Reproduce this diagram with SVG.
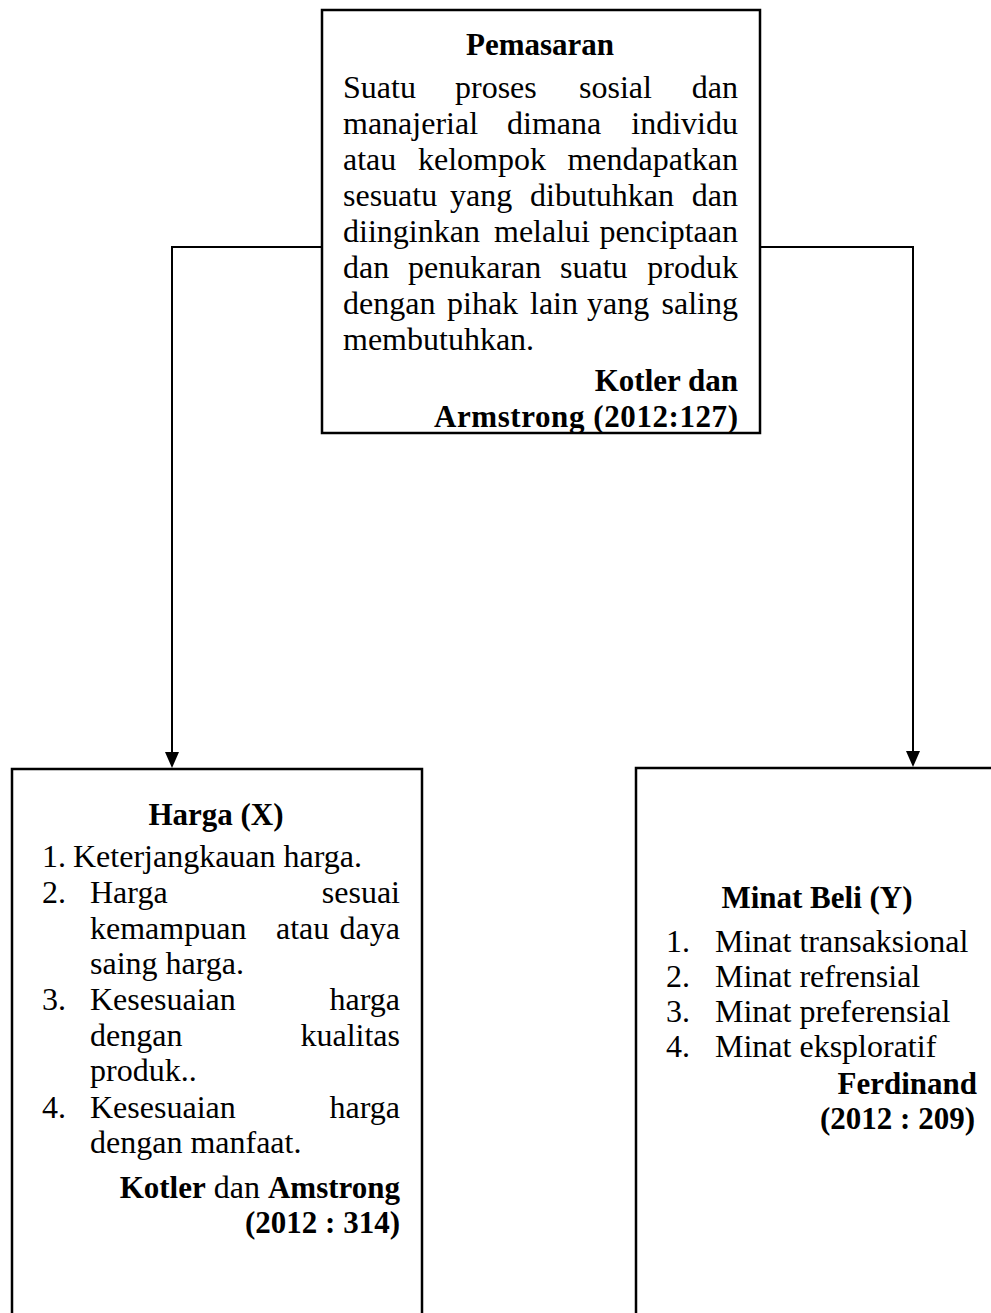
<svg xmlns="http://www.w3.org/2000/svg" width="991" height="1313" viewBox="0 0 991 1313">
<style>
text{font-family:"Liberation Serif","Times New Roman",serif;font-size:32px;fill:#000}
.b{font-weight:bold;font-size:31px}
.box{fill:#fff;stroke:#000;stroke-width:2.5}
.con{fill:none;stroke:#000;stroke-width:2}
</style>
<rect width="991" height="1313" fill="#fff"/>
<g id="connectors">
<path class="con" d="M322,247 H172 V752"/>
<path d="M165,752 L179,752 L172,768 Z" fill="#000"/>
<path class="con" d="M760,247 H913 V751"/>
<path d="M906,751 L920,751 L913,767 Z" fill="#000"/>
</g>
<g id="pemasaran">
<rect class="box" x="322" y="10" width="438" height="423"/>
<text class="b" x="540" y="55" text-anchor="middle">Pemasaran</text>
<text y="98"><tspan x="343">Suatu</tspan><tspan x="455">proses</tspan><tspan x="579">sosial</tspan></text>
<text y="98" x="738" text-anchor="end">dan</text>
<text y="134"><tspan x="343">manajerial</tspan><tspan x="507">dimana</tspan></text>
<text y="134" x="738" text-anchor="end">individu</text>
<text y="170"><tspan x="343">atau</tspan><tspan x="418">kelompok</tspan></text>
<text y="170" x="738" text-anchor="end">mendapatkan</text>
<text y="206"><tspan x="343">sesuatu</tspan><tspan x="450">yang</tspan><tspan x="530">dibutuhkan</tspan></text>
<text y="206" x="738" text-anchor="end">dan</text>
<text y="242"><tspan x="343">diinginkan</tspan><tspan x="494">melalui</tspan></text>
<text y="242" x="738" text-anchor="end">penciptaan</text>
<text y="278"><tspan x="343">dan</tspan><tspan x="408">penukaran</tspan><tspan x="560">suatu</tspan></text>
<text y="278" x="738" text-anchor="end">produk</text>
<text y="314"><tspan x="343">dengan</tspan><tspan x="447">pihak</tspan><tspan x="530">lain</tspan><tspan x="587">yang</tspan></text>
<text y="314" x="738" text-anchor="end">saling</text>
<text x="343" y="350">membutuhkan.</text>
<text class="b" x="738" y="391" text-anchor="end">Kotler dan</text>
<text class="b" x="738" y="427" text-anchor="end" textLength="304">Armstrong (2012:127)</text>
</g>
<g id="harga">
<rect class="box" x="12" y="769" width="410" height="560"/>
<text class="b" x="216" y="825" text-anchor="middle">Harga (X)</text>
<text y="867"><tspan x="42">1.</tspan><tspan x="73">Keterjangkauan harga.</tspan></text>
<text y="903"><tspan x="42">2.</tspan><tspan x="90">Harga</tspan></text>
<text y="903" x="400" text-anchor="end">sesuai</text>
<text y="939"><tspan x="90">kemampuan</tspan><tspan x="276">atau</tspan></text>
<text y="939" x="400" text-anchor="end">daya</text>
<text x="90" y="974">saing harga.</text>
<text y="1010"><tspan x="42">3.</tspan><tspan x="90">Kesesuaian</tspan></text>
<text y="1010" x="400" text-anchor="end">harga</text>
<text y="1046" x="90">dengan</text>
<text y="1046" x="400" text-anchor="end">kualitas</text>
<text x="90" y="1081">produk..</text>
<text y="1118"><tspan x="42">4.</tspan><tspan x="90">Kesesuaian</tspan></text>
<text y="1118" x="400" text-anchor="end">harga</text>
<text x="90" y="1153">dengan manfaat.</text>
<text x="400" y="1198" text-anchor="end"><tspan class="b">Kotler</tspan> dan <tspan class="b">Amstrong</tspan></text>
<text class="b" x="400" y="1233" text-anchor="end">(2012 : 314)</text>
</g>
<g id="minat-beli">
<rect class="box" x="636" y="768" width="380" height="560"/>
<text class="b" x="817" y="908" text-anchor="middle">Minat Beli (Y)</text>
<text y="952"><tspan x="666">1.</tspan><tspan x="715">Minat transaksional</tspan></text>
<text y="987"><tspan x="666">2.</tspan><tspan x="715">Minat refrensial</tspan></text>
<text y="1022"><tspan x="666">3.</tspan><tspan x="715">Minat preferensial</tspan></text>
<text y="1057"><tspan x="666">4.</tspan><tspan x="715">Minat eksploratif</tspan></text>
<text class="b" x="977" y="1094" text-anchor="end">Ferdinand</text>
<text class="b" x="975" y="1129" text-anchor="end">(2012 : 209)</text>
</g>
</svg>
